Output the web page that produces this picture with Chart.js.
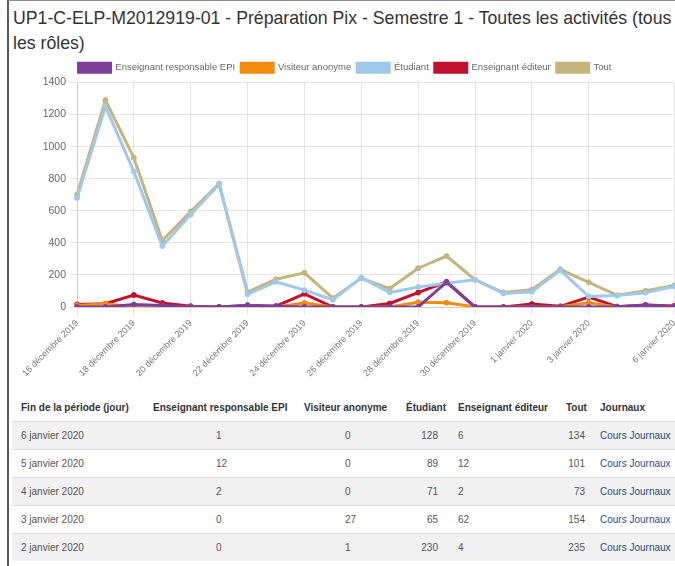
<!DOCTYPE html>
<html lang="fr">
<head>
<meta charset="utf-8">
<script src="https://cdn.jsdelivr.net/npm/chart.js@4/dist/chart.umd.min.js"></script>
<style>
  html, body { margin: 0; padding: 0; background: #fff; overflow: hidden; }
  body { width: 675px; height: 566px; position: relative; font-family: "Liberation Sans", Arial, sans-serif; }
  #frame { position: absolute; left: 7px; top: 0; width: 760px; height: 600px; border-left: 2px solid #5a5a5a; border-top: 1px solid #8a8a8a; }
  h2 { position: absolute; left: 13px; top: 6px; margin: 0; font-weight: normal; font-size: 17.7px; line-height: 25px; color: #333; white-space: nowrap; }
  #wrap { position: absolute; left: 9px; top: 55px; width: 680px; height: 332px; }
  table { position: absolute; left: 12px; top: 394px; width: 720px; border-collapse: collapse; font-size: 10px; color: #555; }
  th, td { height: 28px; padding: 0; box-sizing: border-box; border-top: 1px solid #dedede; white-space: nowrap; }
  th { font-weight: bold; font-size: 10px; color: #333; text-align: left; border-top: none; height: 27px; }
  tbody tr:nth-child(odd) { background: #f1f1f1; }
  td a { color: #24508a; text-decoration: none; }
</style>
</head>
<body>
<div id="frame"></div>
<h2>UP1-C-ELP-M2012919-01 - Préparation Pix - Semestre 1 - Toutes les activités (tous<br>les rôles)</h2>
<div id="wrap"><canvas id="chart"></canvas></div>
<table>
  <colgroup>
    <col style="width:141px"><col style="width:151px"><col style="width:102px">
    <col style="width:52px"><col style="width:108px"><col style="width:34px"><col>
  </colgroup>
  <thead>
    <tr>
      <th style="padding-left:9px">Fin de la période (jour)</th>
      <th>Enseignant responsable EPI</th>
      <th>Visiteur anonyme</th>
      <th>Étudiant</th>
      <th>Enseignant éditeur</th>
      <th>Tout</th>
      <th>Journaux</th>
    </tr>
  </thead>
  <tbody id="rows"></tbody>
</table>
<script>
const LABELS = [
  "16 décembre 2019", "17 décembre 2019", "18 décembre 2019", "19 décembre 2019",
  "20 décembre 2019", "21 décembre 2019", "22 décembre 2019", "23 décembre 2019",
  "24 décembre 2019", "25 décembre 2019", "26 décembre 2019", "27 décembre 2019",
  "28 décembre 2019", "29 décembre 2019", "30 décembre 2019", "31 décembre 2019",
  "1 janvier 2020", "2 janvier 2020", "3 janvier 2020", "4 janvier 2020",
  "5 janvier 2020", "6 janvier 2020",
];
// only these x labels are shown on the axis
const SHOWN_TICKS = [0, 2, 4, 6, 8, 10, 12, 14, 16, 18, 21];

const EPI = [0, 0, 15, 10, 0, 0, 10, 5, 0, 0, 0, 0, 0, 155, 0, 0, 0, 0, 0, 2, 12, 1];
const VISITEUR = [10, 20, 0, 0, 0, 0, 0, 0, 25, 0, 0, 0, 30, 27, 0, 0, 0, 1, 27, 0, 0, 0];
const ETUDIANT = [680, 1250, 845, 380, 577, 765, 80, 157, 105, 45, 182, 91, 124, 148, 170, 85, 95, 230, 65, 71, 89, 128];
const EDITEUR = [15, 20, 75, 25, 5, 0, 10, 5, 82, 0, 0, 22, 90, 157, 0, 0, 18, 4, 62, 2, 12, 6];
const TOUT = [700, 1290, 930, 415, 595, 770, 93, 173, 213, 55, 180, 115, 242, 318, 170, 90, 108, 235, 154, 73, 101, 134];

const SERIES = [
  { label: "Enseignant responsable EPI", data: EPI, color: "#7e3f98" },
  { label: "Visiteur anonyme", data: VISITEUR, color: "#f28c0f" },
  { label: "Étudiant", data: ETUDIANT, color: "#9fc8ea" },
  { label: "Enseignant éditeur", data: EDITEUR, color: "#c2102f" },
  { label: "Tout", data: TOUT, color: "#c4b47e" },
];

const TABLE_ROWS = [21, 20, 19, 18, 17];

const FONT = "'Liberation Sans', Arial, sans-serif";

new Chart(document.getElementById("chart"), {
  type: "line",
  data: {
    labels: LABELS,
    datasets: SERIES.map((s) => ({
      label: s.label,
      data: s.data,
      borderColor: s.color,
      backgroundColor: s.color,
      pointBackgroundColor: s.color,
      pointBorderColor: s.color,
      borderWidth: 3,
      pointRadius: 2.5,
      pointBorderWidth: 1,
      tension: 0,
      fill: false,
    })),
  },
  options: {
    responsive: true,
    maintainAspectRatio: false,
    animation: false,
    layout: { padding: { left: 7, right: 15, top: 2, bottom: 0 } },
    plugins: {
      legend: {
        position: "top",
        labels: { boxWidth: 32, boxHeight: 9, padding: 6, color: "#666", font: { family: FONT, size: 9.5 } },
      },
      tooltip: { enabled: false },
    },
    scales: {
      x: {
        offset: false,
        afterFit: (s) => { s.height = 80; s.paddingLeft = 0; s.paddingRight = 0; },
        grid: {
          color: (ctx) => (SHOWN_TICKS.includes(ctx.index) ? "rgba(0,0,0,0.1)" : "rgba(0,0,0,0)"),
        },
        ticks: {
          autoSkip: false,
          maxRotation: 45,
          minRotation: 45,
          color: "#777",
          font: { family: FONT, size: 9 },
          callback: (v, i) => (SHOWN_TICKS.includes(i) ? LABELS[i] : ""),
        },
      },
      y: {
        min: 0,
        max: 1400,
        afterFit: (s) => { s.width = 61; },
        grid: { color: "rgba(0,0,0,0.1)" },
        ticks: { stepSize: 200, color: "#666", font: { family: FONT, size: 10.5 }, callback: (v) => String(v) },
      },
    },
  },
});

document.getElementById("rows").innerHTML = TABLE_ROWS.map((i) => `
  <tr>
    <td style="padding-left:9px">${LABELS[i]}</td>
    <td style="padding-left:63px">${EPI[i]}</td>
    <td style="padding-left:41px">${VISITEUR[i]}</td>
    <td style="text-align:right;padding-right:20px">${ETUDIANT[i]}</td>
    <td style="padding-left:0">${EDITEUR[i]}</td>
    <td style="text-align:right;padding-right:15px">${TOUT[i]}</td>
    <td><a href="#">Cours Journaux</a></td>
  </tr>`).join("");
</script>
</body>
</html>
